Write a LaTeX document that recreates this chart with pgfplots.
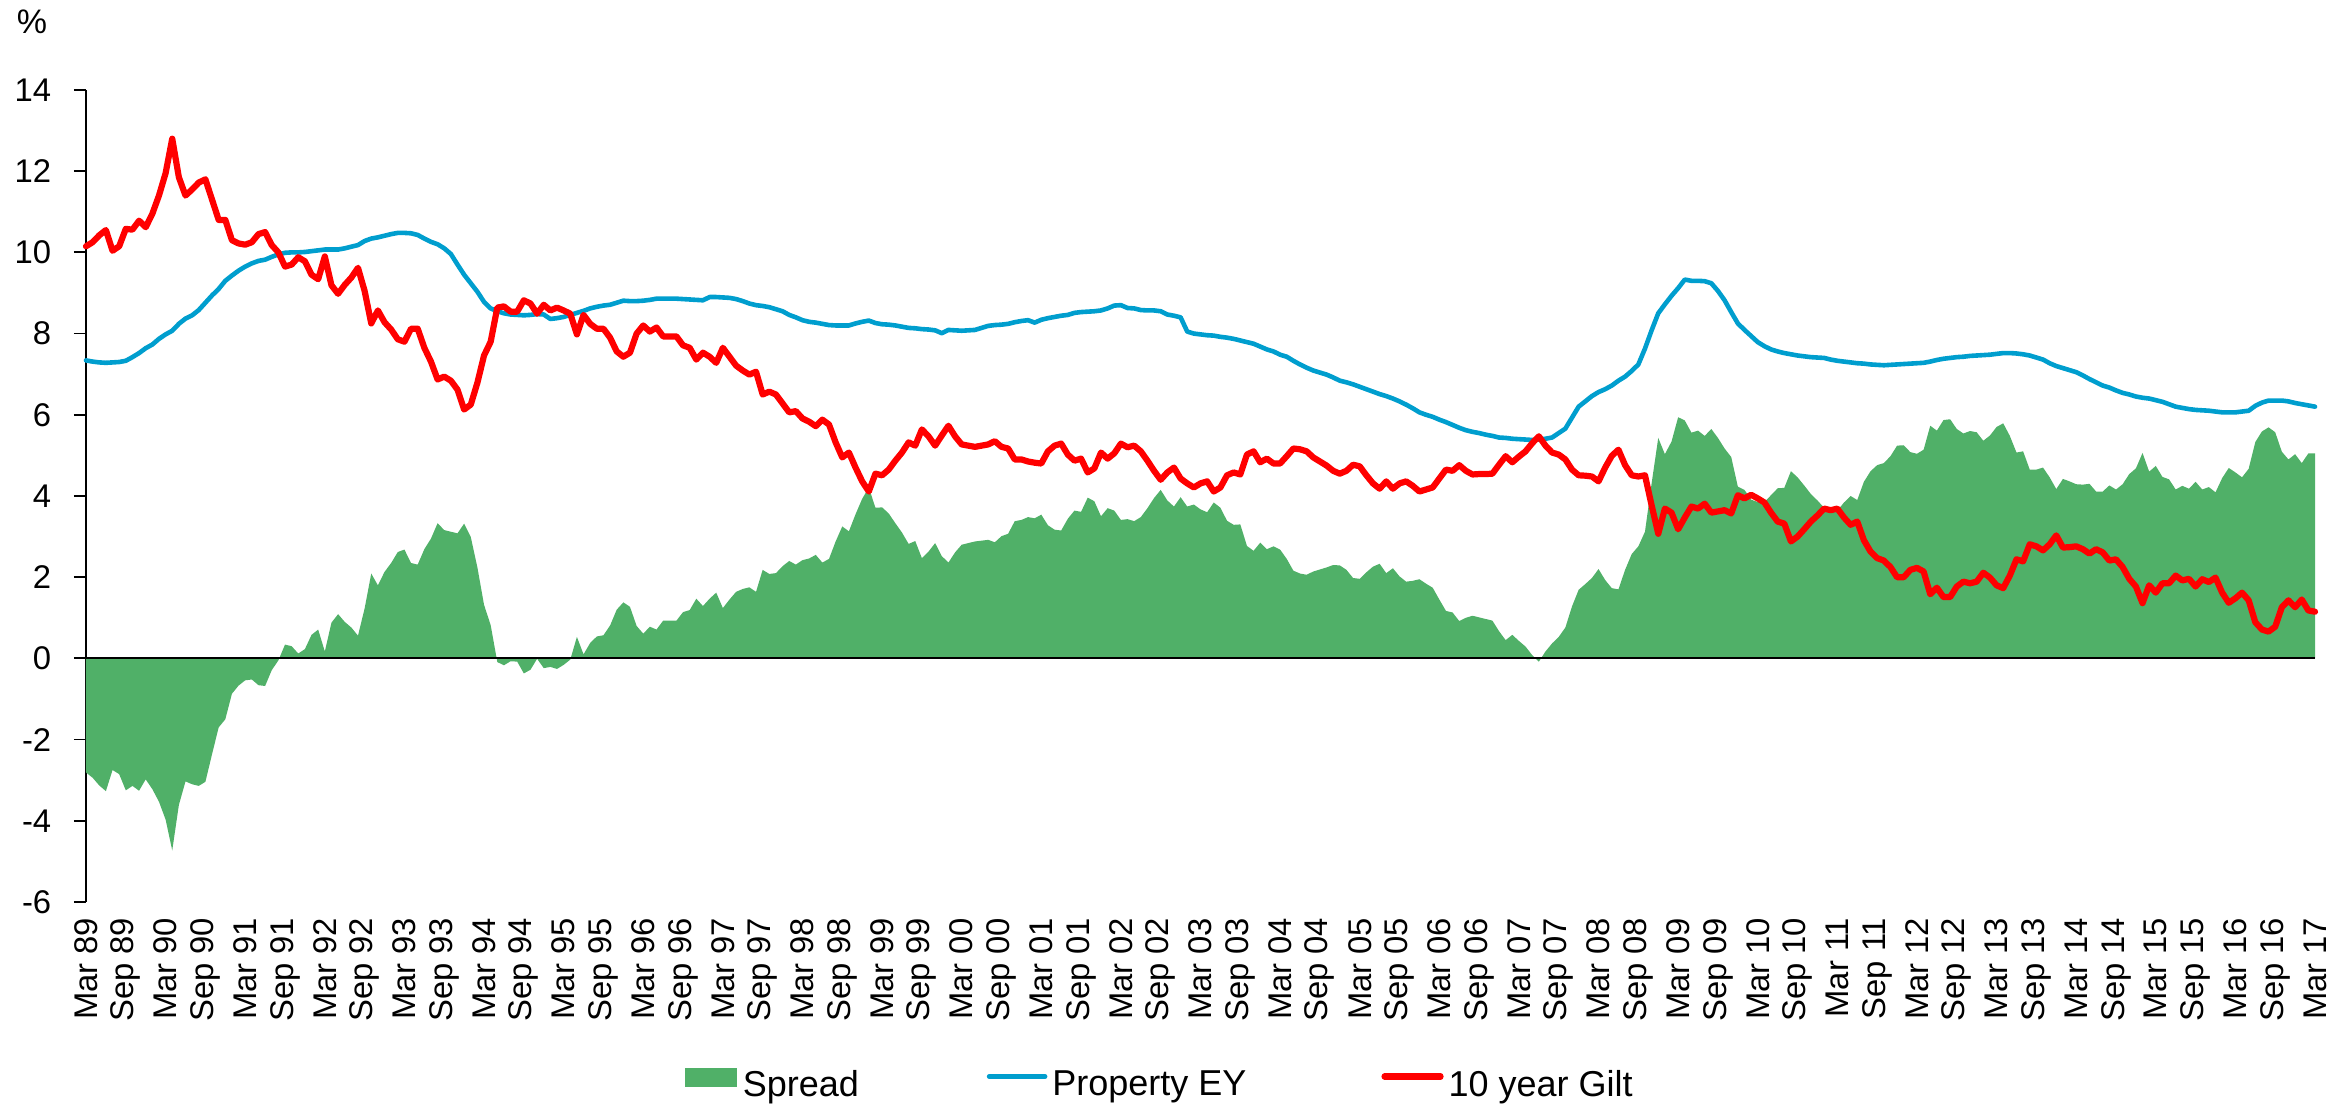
\documentclass[border=0pt]{standalone}
\usepackage{fontspec}
\setmainfont{Liberation Sans}
\usepackage{pgfplots}
\usepackage{pgfplotstable}
\pgfplotsset{compat=1.18}
\definecolor{spreadgreen}{RGB}{80,176,104}
\definecolor{eyblue}{RGB}{0,158,206}
\definecolor{giltred}{RGB}{255,0,0}
\pgfplotstableread{
m e g s
0 7.34 10.15 -2.81
1 7.31 10.25 -2.94
2 7.29 10.42 -3.13
3 7.28 10.55 -3.27
4 7.29 10.04 -2.75
5 7.30 10.15 -2.85
6 7.33 10.58 -3.25
7 7.42 10.56 -3.14
8 7.52 10.78 -3.26
9 7.64 10.62 -2.98
10 7.73 10.95 -3.22
11 7.87 11.40 -3.53
12 7.98 11.95 -3.97
13 8.07 12.80 -4.73
14 8.24 11.85 -3.61
15 8.37 11.40 -3.03
16 8.45 11.55 -3.10
17 8.58 11.72 -3.14
18 8.76 11.80 -3.04
19 8.94 11.30 -2.36
20 9.10 10.80 -1.70
21 9.30 10.80 -1.50
22 9.43 10.30 -0.87
23 9.55 10.22 -0.67
24 9.65 10.19 -0.54
25 9.73 10.25 -0.52
26 9.79 10.45 -0.66
27 9.82 10.50 -0.68
28 9.89 10.18 -0.29
29 9.95 10.00 -0.05
30 9.99 9.65 0.34
31 10.00 9.70 0.30
32 10.00 9.88 0.12
33 10.01 9.78 0.23
34 10.03 9.45 0.58
35 10.05 9.34 0.71
36 10.07 9.90 0.17
37 10.07 9.19 0.88
38 10.07 8.98 1.09
39 10.10 9.20 0.90
40 10.14 9.38 0.76
41 10.18 9.62 0.56
42 10.28 9.05 1.23
43 10.34 8.25 2.09
44 10.37 8.57 1.80
45 10.41 8.28 2.13
46 10.45 8.10 2.35
47 10.48 7.86 2.62
48 10.48 7.80 2.68
49 10.47 8.12 2.35
50 10.43 8.12 2.31
51 10.34 7.65 2.69
52 10.26 7.31 2.95
53 10.20 6.87 3.33
54 10.10 6.94 3.16
55 9.96 6.84 3.12
56 9.70 6.62 3.08
57 9.45 6.13 3.32
58 9.24 6.25 2.99
59 9.03 6.79 2.24
60 8.78 7.46 1.32
61 8.62 7.80 0.82
62 8.55 8.64 -0.09
63 8.50 8.67 -0.17
64 8.47 8.54 -0.07
65 8.46 8.54 -0.08
66 8.45 8.82 -0.37
67 8.46 8.74 -0.28
68 8.48 8.49 -0.01
69 8.47 8.71 -0.24
70 8.36 8.57 -0.21
71 8.38 8.64 -0.26
72 8.41 8.57 -0.16
73 8.46 8.49 -0.03
74 8.51 7.98 0.53
75 8.56 8.46 0.10
76 8.62 8.24 0.38
77 8.66 8.12 0.54
78 8.69 8.12 0.57
79 8.71 7.90 0.81
80 8.76 7.56 1.20
81 8.81 7.43 1.38
82 8.80 7.53 1.27
83 8.80 8.00 0.80
84 8.81 8.20 0.61
85 8.83 8.05 0.78
86 8.86 8.15 0.71
87 8.86 7.93 0.93
88 8.86 7.93 0.93
89 8.86 7.93 0.93
90 8.85 7.71 1.14
91 8.84 7.65 1.19
92 8.83 7.36 1.47
93 8.82 7.53 1.29
94 8.90 7.43 1.47
95 8.90 7.28 1.62
96 8.89 7.65 1.24
97 8.88 7.43 1.45
98 8.85 7.21 1.64
99 8.80 7.09 1.71
100 8.74 6.99 1.75
101 8.70 7.06 1.64
102 8.68 6.50 2.18
103 8.65 6.57 2.08
104 8.60 6.50 2.10
105 8.55 6.28 2.27
106 8.46 6.06 2.40
107 8.40 6.09 2.31
108 8.33 5.91 2.42
109 8.29 5.83 2.46
110 8.27 5.72 2.55
111 8.24 5.88 2.36
112 8.21 5.76 2.45
113 8.20 5.32 2.88
114 8.20 4.95 3.25
115 8.20 5.07 3.13
116 8.25 4.70 3.55
117 8.29 4.36 3.93
118 8.32 4.11 4.21
119 8.26 4.55 3.71
120 8.23 4.51 3.72
121 8.22 4.65 3.57
122 8.20 4.87 3.33
123 8.17 5.07 3.10
124 8.14 5.32 2.82
125 8.13 5.24 2.89
126 8.11 5.64 2.47
127 8.10 5.47 2.63
128 8.08 5.24 2.84
129 8.01 5.49 2.52
130 8.09 5.73 2.36
131 8.08 5.47 2.61
132 8.07 5.27 2.80
133 8.08 5.24 2.84
134 8.09 5.21 2.88
135 8.14 5.24 2.90
136 8.19 5.27 2.92
137 8.21 5.35 2.86
138 8.22 5.21 3.01
139 8.24 5.17 3.07
140 8.28 4.90 3.38
141 8.31 4.90 3.41
142 8.33 4.85 3.48
143 8.27 4.82 3.45
144 8.34 4.80 3.54
145 8.38 5.10 3.28
146 8.41 5.24 3.17
147 8.44 5.29 3.15
148 8.46 5.02 3.44
149 8.51 4.87 3.64
150 8.53 4.92 3.61
151 8.54 4.58 3.96
152 8.55 4.68 3.87
153 8.57 5.07 3.50
154 8.62 4.92 3.70
155 8.69 5.05 3.64
156 8.70 5.29 3.41
157 8.63 5.20 3.43
158 8.62 5.24 3.38
159 8.58 5.10 3.48
160 8.57 4.87 3.70
161 8.57 4.62 3.95
162 8.55 4.40 4.15
163 8.47 4.58 3.89
164 8.44 4.70 3.74
165 8.40 4.43 3.97
166 8.05 4.31 3.74
167 8.00 4.21 3.79
168 7.98 4.31 3.67
169 7.96 4.36 3.60
170 7.95 4.11 3.84
171 7.92 4.21 3.71
172 7.90 4.51 3.39
173 7.87 4.58 3.29
174 7.83 4.53 3.30
175 7.79 5.02 2.77
176 7.75 5.10 2.65
177 7.68 4.83 2.85
178 7.61 4.92 2.69
179 7.56 4.80 2.76
180 7.48 4.80 2.68
181 7.43 4.98 2.45
182 7.33 5.17 2.16
183 7.24 5.15 2.09
184 7.16 5.10 2.06
185 7.09 4.95 2.14
186 7.04 4.85 2.19
187 6.99 4.75 2.24
188 6.92 4.62 2.30
189 6.84 4.55 2.29
190 6.80 4.62 2.18
191 6.75 4.77 1.98
192 6.69 4.73 1.96
193 6.63 4.51 2.12
194 6.57 4.31 2.26
195 6.51 4.18 2.33
196 6.46 4.36 2.10
197 6.40 4.18 2.22
198 6.33 4.31 2.02
199 6.25 4.36 1.89
200 6.16 4.25 1.91
201 6.06 4.11 1.95
202 6.00 4.16 1.84
203 5.95 4.21 1.74
204 5.88 4.43 1.45
205 5.82 4.65 1.17
206 5.75 4.62 1.13
207 5.68 4.76 0.92
208 5.62 4.62 1.00
209 5.58 4.53 1.05
210 5.55 4.54 1.01
211 5.51 4.54 0.97
212 5.48 4.55 0.93
213 5.44 4.77 0.67
214 5.43 4.98 0.45
215 5.41 4.83 0.58
216 5.40 4.97 0.43
217 5.39 5.10 0.29
218 5.38 5.30 0.08
219 5.39 5.47 -0.08
220 5.41 5.24 0.17
221 5.44 5.07 0.37
222 5.55 5.02 0.53
223 5.66 4.90 0.76
224 5.93 4.65 1.28
225 6.20 4.51 1.69
226 6.33 4.50 1.83
227 6.46 4.48 1.98
228 6.56 4.36 2.20
229 6.63 4.70 1.93
230 6.72 4.99 1.73
231 6.84 5.14 1.70
232 6.94 4.76 2.18
233 7.08 4.51 2.57
234 7.24 4.48 2.76
235 7.63 4.51 3.12
236 8.08 3.77 4.31
237 8.50 3.07 5.43
238 8.72 3.69 5.03
239 8.93 3.59 5.34
240 9.12 3.18 5.94
241 9.33 3.47 5.86
242 9.30 3.74 5.56
243 9.30 3.69 5.61
244 9.29 3.81 5.48
245 9.24 3.59 5.65
246 9.05 3.62 5.43
247 8.82 3.65 5.17
248 8.53 3.57 4.96
249 8.25 4.02 4.23
250 8.09 3.94 4.15
251 7.94 4.03 3.91
252 7.79 3.94 3.85
253 7.69 3.84 3.85
254 7.61 3.59 4.02
255 7.56 3.37 4.19
256 7.52 3.32 4.20
257 7.49 2.88 4.61
258 7.46 3.00 4.46
259 7.44 3.18 4.26
260 7.42 3.37 4.05
261 7.41 3.52 3.89
262 7.40 3.69 3.71
263 7.36 3.65 3.71
264 7.33 3.69 3.64
265 7.31 3.47 3.84
266 7.29 3.29 4.00
267 7.27 3.37 3.90
268 7.26 2.91 4.35
269 7.24 2.63 4.61
270 7.23 2.47 4.76
271 7.22 2.41 4.81
272 7.23 2.25 4.98
273 7.24 2.00 5.24
274 7.25 2.00 5.25
275 7.26 2.18 5.08
276 7.27 2.23 5.04
277 7.28 2.14 5.14
278 7.31 1.58 5.73
279 7.35 1.74 5.61
280 7.38 1.51 5.87
281 7.40 1.51 5.89
282 7.42 1.77 5.65
283 7.43 1.89 5.54
284 7.45 1.85 5.60
285 7.46 1.89 5.57
286 7.47 2.11 5.36
287 7.48 1.99 5.49
288 7.50 1.80 5.70
289 7.52 1.73 5.79
290 7.52 2.04 5.48
291 7.51 2.44 5.07
292 7.49 2.39 5.10
293 7.46 2.81 4.65
294 7.41 2.76 4.65
295 7.36 2.66 4.70
296 7.27 2.81 4.46
297 7.20 3.03 4.17
298 7.15 2.73 4.42
299 7.10 2.74 4.36
300 7.05 2.76 4.29
301 6.97 2.69 4.28
302 6.88 2.58 4.30
303 6.80 2.69 4.11
304 6.72 2.61 4.11
305 6.67 2.41 4.26
306 6.60 2.44 4.16
307 6.54 2.25 4.29
308 6.50 1.96 4.54
309 6.45 1.77 4.68
310 6.42 1.36 5.06
311 6.40 1.80 4.60
312 6.36 1.62 4.74
313 6.32 1.85 4.47
314 6.26 1.85 4.41
315 6.20 2.04 4.16
316 6.17 1.92 4.25
317 6.14 1.96 4.18
318 6.12 1.77 4.35
319 6.11 1.95 4.16
320 6.10 1.88 4.22
321 6.08 1.99 4.09
322 6.06 1.62 4.44
323 6.06 1.37 4.69
324 6.06 1.48 4.58
325 6.08 1.62 4.46
326 6.10 1.43 4.67
327 6.22 0.89 5.33
328 6.30 0.71 5.59
329 6.35 0.66 5.69
330 6.35 0.78 5.57
331 6.35 1.26 5.09
332 6.33 1.43 4.90
333 6.29 1.26 5.03
334 6.26 1.45 4.81
335 6.23 1.18 5.05
336 6.20 1.15 5.05
}\data
\begin{document}
\begin{tikzpicture}
\useasboundingbox (-21.5pt,-52.25pt) rectangle (564.5pt,225.5pt);
\begin{axis}[
  scale only axis, width=557.25pt, height=203pt,
  xmin=0, xmax=336, ymin=-6, ymax=14,
  axis lines=left, separate axis lines,
  x axis line style={draw=none},
  y axis line style={-, black, line width=0.45pt},
  xtick={0,6,...,336},
  xticklabels={Mar 89,Sep 89,Mar 90,Sep 90,Mar 91,Sep 91,Mar 92,Sep 92,Mar 93,Sep 93,Mar 94,Sep 94,Mar 95,Sep 95,Mar 96,Sep 96,Mar 97,Sep 97,Mar 98,Sep 98,Mar 99,Sep 99,Mar 00,Sep 00,Mar 01,Sep 01,Mar 02,Sep 02,Mar 03,Sep 03,Mar 04,Sep 04,Mar 05,Sep 05,Mar 06,Sep 06,Mar 07,Sep 07,Mar 08,Sep 08,Mar 09,Sep 09,Mar 10,Sep 10,Mar 11,Sep 11,Mar 12,Sep 12,Mar 13,Sep 13,Mar 14,Sep 14,Mar 15,Sep 15,Mar 16,Sep 16,Mar 17},
  xtick align=inside,
  xtick style={draw=none},
  ytick={-6,-4,...,14},
  ytick align=outside,
  ytick style={black, line width=0.45pt},
  major tick length=3pt,
  /pgf/number format/assume math mode=true,
  tick label style={font=\fontsize{8.2}{9}\selectfont, inner sep=0pt},
  xticklabel style={rotate=90, anchor=east},
  yticklabel style={anchor=east},
  xticklabel shift=3.75pt,
  yticklabel shift=5.5pt,
  ylabel={\%},
  ylabel style={rotate=-90, at={(axis description cs:-0.0242,1.0837)}, anchor=center, font=\fontsize{8.5}{9}\selectfont, inner sep=0pt},
  clip=false,
  legend columns=3,
  legend style={at={(0.2683,-0.2254)}, anchor=west, draw=none, fill=none, inner sep=0pt,
    font=\fontsize{9}{10}\selectfont, nodes={inner sep=0pt},
    /tikz/every even column/.style={column sep=0pt}},
  legend cell align=left,
]
\addplot[fill=spreadgreen, draw=none,
  legend image code/.code={\fill[spreadgreen] (0pt,0pt) rectangle (13pt,4.75pt);}]
  table[x=m,y=s]{\data} \closedcycle;
\addlegendentry{\makebox[62.5pt][l]{\hspace{1.5pt}Spread}}
\draw[black, line width=0.45pt] (axis cs:0,0) -- (axis cs:336,0);
\addplot[eyblue, line width=1.15pt, line join=round, line cap=round,
  legend image code/.code={\draw[eyblue, line width=1.15pt, line cap=round] (0pt,2.5pt) -- (14pt,2.5pt);}]
  table[x=m,y=e]{\data};
\addlegendentry{\makebox[83.5pt][l]{\hspace{1.25pt}Property EY}}
\addplot[giltred, line width=1.55pt, line join=round, line cap=round,
  legend image code/.code={\draw[giltred, line width=1.55pt, line cap=round] (0pt,2.5pt) -- (14pt,2.5pt);}]
  table[x=m,y=g]{\data};
\addlegendentry{\hspace{1.25pt}10 year Gilt}
\end{axis}
\end{tikzpicture}
\end{document}
